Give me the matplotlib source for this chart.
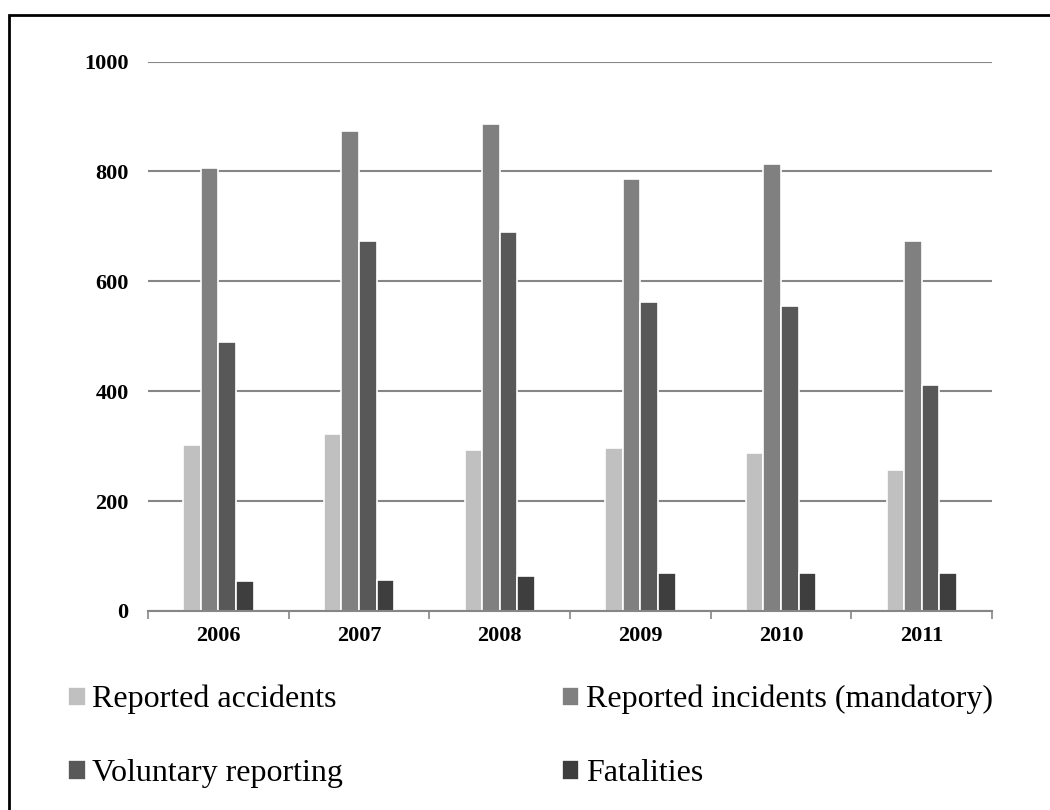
import numpy as np
import matplotlib.pyplot as plt
from matplotlib.patches import Rectangle

years = ["2006", "2007", "2008", "2009", "2010", "2011"]
accidents = [303, 322, 293, 296, 288, 257]
incidents = [806, 873, 886, 787, 814, 674]
voluntary = [490, 674, 689, 563, 555, 411]
fatalities = [54, 56, 64, 70, 70, 70]

series = [
    ("Reported accidents", accidents, "#c0c0c0"),
    ("Reported incidents (mandatory)", incidents, "#808080"),
    ("Voluntary reporting", voluntary, "#585858"),
    ("Fatalities", fatalities, "#3e3e3e"),
]

plt.rcParams['font.family'] = ['Liberation Serif', 'DejaVu Serif']

fig = plt.figure(figsize=(10.5, 8.1), dpi=100)
ax = fig.add_axes([148 / 1050, 1 - 611 / 810, 844 / 1050, 549.5 / 810])

x = np.arange(len(years))
w = 0.125
bars = []
for i, (name, vals, col) in enumerate(series):
    b = ax.bar(x + (i - 1.5) * w, vals, w, color=col, edgecolor="white",
               linewidth=1.2, label=name, zorder=3)
    bars.append(b)

ax.set_xlim(-0.5, len(years) - 0.5)
ax.set_ylim(0, 1000)
ax.set_yticks(range(0, 1001, 200))
ax.yaxis.grid(True, color="#868686", linewidth=1.5, zorder=0)
for s in ["top", "right", "left"]:
    ax.spines[s].set_visible(False)
ax.spines["bottom"].set_color("#868686")
ax.spines["bottom"].set_linewidth(1.5)
ax.spines["bottom"].set_zorder(4)

# category ticks sit between the year groups
ax.set_xticks(np.arange(-0.5, len(years), 1.0))
ax.set_xticklabels([])
ax.set_xticks(x, minor=True)
ax.set_xticklabels(years, minor=True, fontsize=16, fontweight="bold")
ax.tick_params(axis="x", which="major", direction="out", length=6,
               color="#868686", width=1.2)
ax.tick_params(axis="x", which="minor", length=0, pad=11)
ax.tick_params(axis="y", length=0, pad=14, labelsize=16)
for t in ax.get_yticklabels():
    t.set_fontweight("bold")

handles = [bars[0], bars[2], bars[1], bars[3]]
labels = [series[0][0], series[2][0], series[1][0], series[3][0]]
fig.legend(handles, labels, ncol=2, loc="upper left",
           bbox_to_anchor=(68 / 1050, 1 - 685 / 810), frameon=False,
           fontsize=23, handlelength=0.55, handleheight=0.55,
           handletextpad=0.2, columnspacing=6.85, labelspacing=1.4,
           borderaxespad=0, borderpad=0)

# outer frame (only top and left edges fall inside the image)
fig.patches.append(Rectangle((9 / 1050, -0.1), 1.2, 1 - 15 / 810 + 0.1,
                             transform=fig.transFigure, fill=False,
                             edgecolor="black", linewidth=2))

fig.savefig("out.png", dpi=100)
